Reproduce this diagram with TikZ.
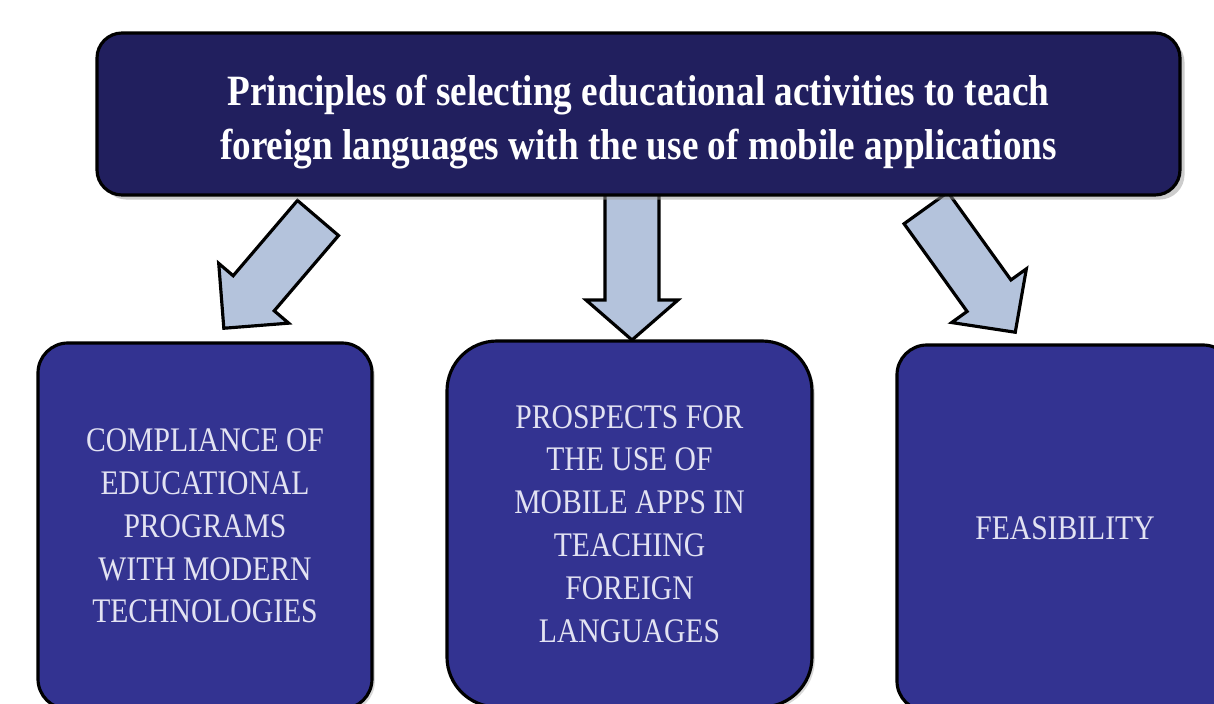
\documentclass[tikz,border=0pt]{standalone}
\usepackage{fontspec}
\setmainfont{Liberation Serif}[FakeStretch=0.86]
\usetikzlibrary{shadows}

\definecolor{topblue}{HTML}{211F5E}
\definecolor{boxblue}{HTML}{333391}
\definecolor{arrowblue}{HTML}{B4C3DC}
\definecolor{lighttext}{HTML}{E2E2F2}

\tikzset{
    topbox/.style={draw=black, line width=0.9pt, fill=topblue, rounded corners=0.25cm,
        minimum width=10.83cm, minimum height=1.62cm, text=white, align=center,
        font=\fontsize{12.3}{15.6}\selectfont\bfseries,
        drop shadow={shadow xshift=1.3pt, shadow yshift=-1.3pt, fill=gray!80}},
    itembox/.style={draw=black, line width=0.9pt, fill=boxblue, text=lighttext, align=center,
        font=\fontsize{9.8}{12.2}\selectfont, minimum height=3.66cm,
        drop shadow={shadow xshift=0.8pt, shadow yshift=-0.8pt, fill=gray!60}},
    arrowfill/.style={draw=black, line width=0.9pt, fill=arrowblue, line join=miter}
}

% block arrow: tail, angle, shaft length, total length
\newcommand{\blockarrow}[4]{%
    \draw[arrowfill, shift={(#1)}, rotate=#2]
        (0,0.27) -- (#3,0.27) -- (#3,0.46) -- (#4,0) -- (#3,-0.46) -- (#3,-0.27) -- (0,-0.27) -- cycle;
}

\begin{document}
\begin{tikzpicture}
    \useasboundingbox (0,0) rectangle (12.14,-7.04);
    \clip (0,0) rectangle (12.14,-7.04);

    \coordinate (tailL) at (3.18,-2.18);
    \coordinate (tailM) at (6.32,-1.90);
    \coordinate (tailR) at (9.26,-2.08);

    \blockarrow{tailL}{229.5}{0.99}{1.45}
    \blockarrow{tailM}{-90}{1.10}{1.50}
    \blockarrow{tailR}{-54.3}{1.08}{1.53}

    \node[topbox] (principles) at (6.385,-1.14)
        {\rule{0pt}{13.2pt}Principles of selecting educational activities to teach\\
         foreign languages with the use of mobile applications};

    \node[itembox, rounded corners=0.3cm, minimum width=3.34cm] (compliance) at (2.05,-5.26)
        {COMPLIANCE OF\\EDUCATIONAL\\PROGRAMS\\WITH MODERN\\TECHNOLOGIES};
    \node[itembox, rounded corners=0.5cm, minimum width=3.65cm] (prospects) at (6.295,-5.24)
        {PROSPECTS FOR\\THE USE OF\\MOBILE APPS IN\\TEACHING\\FOREIGN\\LANGUAGES};
    \node[itembox, rounded corners=0.3cm, minimum width=3.36cm] (feasibility) at (10.65,-5.28)
        {FEASIBILITY};
\end{tikzpicture}
\end{document}
